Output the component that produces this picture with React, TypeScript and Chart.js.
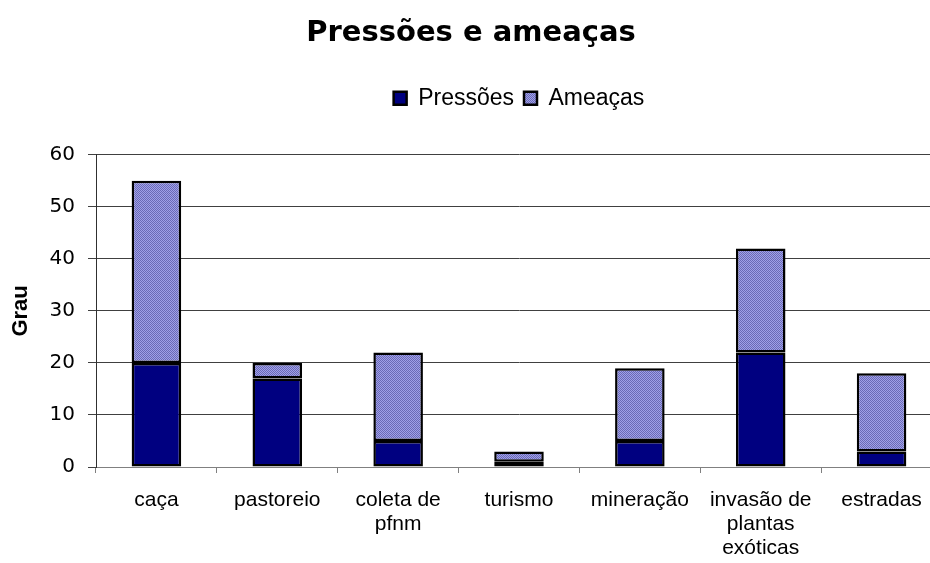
import React, { useEffect, useRef } from "react";
import { Chart, registerables } from "chart.js";

Chart.register(...registerables);

const categories: string[][] = [
  ["caça"],
  ["pastoreio"],
  ["coleta de", "pfnm"],
  ["turismo"],
  ["mineração"],
  ["invasão de", "plantas", "exóticas"],
  ["estradas"],
];
const pressoes: number[] = [20, 17, 5, 1, 5, 22, 3];
const ameacas: number[] = [35, 3, 17, 2, 14, 20, 15];
const yTicks: number[] = [0, 10, 20, 30, 40, 50, 60];

function makePattern(): CanvasPattern | string {
  const c = document.createElement("canvas");
  c.width = 2;
  c.height = 2;
  const ctx = c.getContext("2d");
  if (!ctx) return "#8484cc";
  ctx.fillStyle = "#a0a0e8";
  ctx.fillRect(0, 0, 2, 2);
  ctx.fillStyle = "#6a6ab6";
  ctx.fillRect(0, 0, 1, 1);
  ctx.fillRect(1, 1, 1, 1);
  const p = ctx.createPattern(c, "repeat");
  return p || "#8484cc";
}

export default function App() {
  const ref = useRef<HTMLCanvasElement | null>(null);
  useEffect(() => {
    if (!ref.current) return;
    const pattern = makePattern();
    const chart = new Chart(ref.current, {
      type: "bar",
      data: {
        labels: categories,
        datasets: [
          {
            label: "Pressões",
            data: pressoes,
            backgroundColor: "#000080",
            borderColor: "#000000",
            borderWidth: 2.5,
            borderSkipped: false,
            barPercentage: 0.41,
            categoryPercentage: 1,
          },
          {
            label: "Ameaças",
            data: ameacas,
            backgroundColor: pattern as any,
            borderColor: "#000000",
            borderWidth: 2.5,
            borderSkipped: false,
            barPercentage: 0.41,
            categoryPercentage: 1,
          },
        ],
      },
      options: {
        responsive: false,
        animation: false,
        layout: { padding: { left: 0, right: 0, top: 0, bottom: 0 } },
        plugins: {
          title: {
            display: true,
            text: "Pressões e ameaças",
            color: "#000000",
            font: { family: "'DejaVu Sans'", size: 29, weight: "bold", lineHeight: 1.2 },
            padding: { top: 16, bottom: 26 },
          },
          legend: {
            display: true,
            position: "top",
            fullSize: false,
            labels: {
              color: "#000000",
              font: { family: "'Liberation Sans'", size: 23 },
              boxWidth: 13,
              boxHeight: 13,
              padding: 10,
            },
          },
          subtitle: {
            display: true,
            text: " ",
            weight: 500,
            font: { size: 1, lineHeight: 1 },
            padding: { top: 0, bottom: 34 },
          } as any,
          tooltip: { enabled: false },
        },
        scales: {
          x: {
            stacked: true,
            offset: true,
            grid: {
              display: true,
              drawOnChartArea: false,
              drawTicks: true,
              tickLength: 6,
              color: "#808080",
              offset: true,
            },
            border: { display: true, color: "#808080", width: 1 },
            ticks: {
              color: "#000000",
              font: { family: "'Liberation Sans'", size: 21, lineHeight: 1.14 },
              padding: 15,
              maxRotation: 0,
              autoSkip: false,
            },
            afterFit: (scale: any) => {
              scale.height = 96;
            },
          },
          y: {
            stacked: true,
            min: 0,
            max: 60,
            afterBuildTicks: (scale: any) => {
              scale.ticks = yTicks.map((v) => ({ value: v }));
            },
            grid: {
              color: "#404040",
              lineWidth: 1,
              tickLength: 8,
              drawTicks: true,
            },
            border: { display: true, color: "#303030", width: 1 },
            ticks: {
              color: "#000000",
              font: { family: "'DejaVu Sans'", size: 20 },
              padding: 13,
            },
            title: {
              display: true,
              text: "Grau",
              color: "#000000",
              font: { family: "'Liberation Sans'", size: 22, weight: "bold" },
              padding: { top: 8, bottom: 0 },
            },
            afterFit: (scale: any) => {
              scale.width = 96;
            },
          },
        },
      },
    });
    return () => chart.destroy();
  }, []);
  return (
    <div
      style={{
        position: "absolute",
        left: 0,
        top: 0,
        width: 930,
        height: 563,
        overflow: "hidden",
        background: "#ffffff",
      }}
    >
      <canvas ref={ref} width={942} height={563} style={{ display: "block" }} />
    </div>
  );
}
